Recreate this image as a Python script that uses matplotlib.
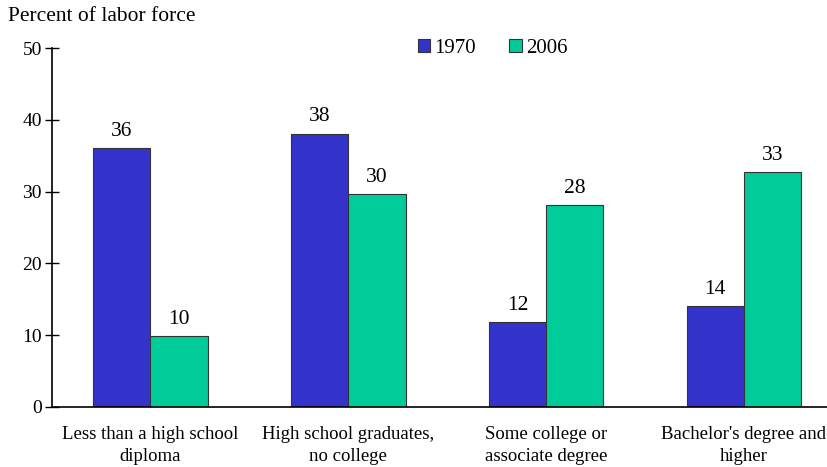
import matplotlib
matplotlib.use('Agg')
import matplotlib.pyplot as plt
import numpy as np

plt.rcParams['font.family'] = ['Liberation Serif', 'DejaVu Serif']

# data
categories = ['Less than a high school\ndiploma', 'High school graduates,\nno college',
              'Some college or\nassociate degree', "Bachelor's degree and\nhigher"]
years = ['1970', '2006']
vals_1970 = [36.1, 38.1, 11.8, 14.1]
vals_2006 = [9.9, 29.7, 28.1, 32.7]
labels_1970 = ['36', '38', '12', '14']
labels_2006 = ['10', '30', '28', '33']

fig = plt.figure(figsize=(8.27, 4.67), dpi=100)
ax = fig.add_axes([0.0623, 0.1285, 0.9377, 0.7685])

x = np.arange(len(categories))
w = 0.29
b1 = ax.bar(x - w / 2, vals_1970, w, color='#3333CC', edgecolor='#333333', linewidth=0.8, label=years[0])
b2 = ax.bar(x + w / 2, vals_2006, w, color='#00CC99', edgecolor='#333333', linewidth=0.8, label=years[1])

for bars, labs in ((b1, labels_1970), (b2, labels_2006)):
    for r, t in zip(bars, labs):
        ax.text(r.get_x() + r.get_width() / 2, r.get_height() + 1.0, t,
                ha='center', va='bottom', fontsize=15.5)

ax.set_xlim(-0.5, 3.42)
ax.set_ylim(0, 50)
ax.set_yticks(range(0, 51, 10))
ax.set_xticks(x)
ax.set_xticklabels(categories, fontsize=13.5, linespacing=1.35)
ax.tick_params(axis='x', length=0, pad=14)
ax.tick_params(axis='y', direction='inout', length=10, width=1, labelsize=14, pad=2)
for s in ('top', 'right'):
    ax.spines[s].set_visible(False)
ax.spines['left'].set_linewidth(1.2)
ax.spines['bottom'].set_linewidth(1.2)

fig.text(0.01, 0.965, 'Percent of labor force', fontsize=15.5, va='center', ha='left')

ax.legend(loc='center', bbox_to_anchor=(0.569, 1.0), ncol=2, frameon=False,
          fontsize=15, handlelength=0.58, handleheight=0.58, handletextpad=0.2,
          columnspacing=1.6)

fig.savefig('out.png', dpi=100)
